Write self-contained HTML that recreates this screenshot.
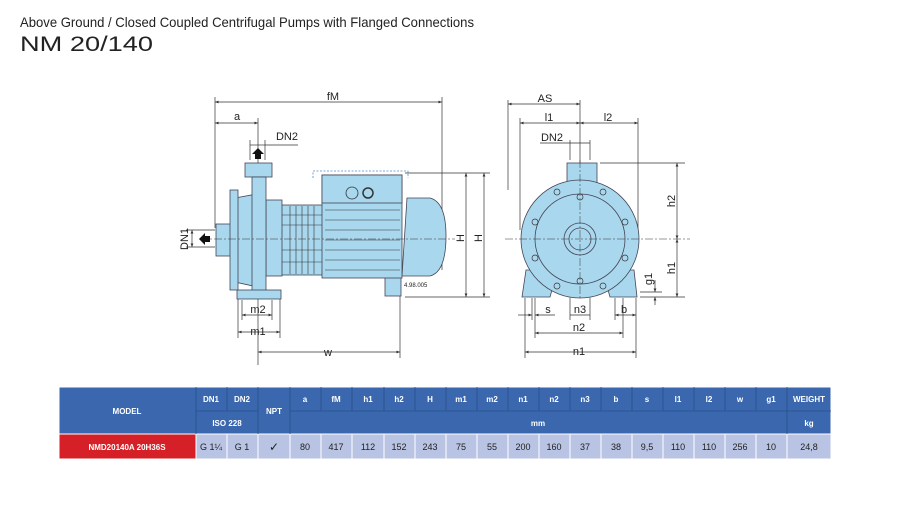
<!DOCTYPE html>
<html><head><meta charset="utf-8"><style>
html,body{margin:0;padding:0;background:#fff;}
svg{display:block;}
text{font-family:"Liberation Sans",sans-serif;}
</style></head><body>
<svg width="900" height="514" viewBox="0 0 900 514" xmlns="http://www.w3.org/2000/svg">
<defs>
<marker id="ar" viewBox="0 0 10 10" refX="10" refY="5" markerWidth="5" markerHeight="5" orient="auto-start-reverse"><path d="M0,1 L10,5 L0,9 z" fill="#333"/></marker>
</defs>
<text x="20" y="27" font-size="14" fill="#222" textLength="454" lengthAdjust="spacingAndGlyphs">Above Ground / Closed Coupled Centrifugal Pumps with Flanged Connections</text>
<text x="20" y="51" font-size="21" fill="#222" textLength="133" lengthAdjust="spacingAndGlyphs">NM 20/140</text>

<g stroke="#333" stroke-width="0.7" fill="none">
<!-- side view dims -->
<line x1="215" y1="97" x2="215" y2="228"/>
<line x1="442" y1="97" x2="442" y2="270"/>
<line x1="215" y1="102" x2="442" y2="102" marker-start="url(#ar)" marker-end="url(#ar)"/>
<line x1="215" y1="123" x2="258" y2="123" marker-start="url(#ar)" marker-end="url(#ar)"/>
<line x1="258" y1="118" x2="258" y2="365"/>
<line x1="250" y1="140" x2="250" y2="160"/><line x1="265" y1="140" x2="265" y2="160"/>
<line x1="250" y1="145" x2="265" y2="145"/><line x1="265" y1="145" x2="298" y2="145"/>
<line x1="192" y1="230" x2="192" y2="247" marker-start="url(#ar)" marker-end="url(#ar)"/>
<line x1="186" y1="230" x2="215" y2="230"/><line x1="186" y1="247" x2="215" y2="247"/>
<line x1="238" y1="296" x2="238" y2="338"/><line x1="280" y1="296" x2="280" y2="338"/>
<line x1="242" y1="300" x2="242" y2="320"/><line x1="272" y1="300" x2="272" y2="320"/>
<line x1="242" y1="315" x2="272" y2="315" marker-start="url(#ar)" marker-end="url(#ar)"/>
<line x1="238" y1="332" x2="280" y2="332" marker-start="url(#ar)" marker-end="url(#ar)"/>
<line x1="400" y1="290" x2="400" y2="358"/>
<line x1="258" y1="352" x2="400" y2="352" marker-start="url(#ar)" marker-end="url(#ar)"/>
<line x1="405" y1="173" x2="490" y2="173"/><line x1="405" y1="297" x2="490" y2="297"/>
<line x1="466" y1="173" x2="466" y2="297" marker-start="url(#ar)" marker-end="url(#ar)"/>
<line x1="484" y1="173" x2="484" y2="297" marker-start="url(#ar)" marker-end="url(#ar)"/>
<!-- front view dims -->
<line x1="508" y1="100" x2="508" y2="190"/>
<line x1="580" y1="100" x2="580" y2="170"/>
<line x1="508" y1="104" x2="580" y2="104" marker-start="url(#ar)" marker-end="url(#ar)"/>
<line x1="520" y1="118" x2="520" y2="230"/><line x1="638" y1="118" x2="638" y2="230"/>
<line x1="520" y1="123" x2="580" y2="123" marker-start="url(#ar)" marker-end="url(#ar)"/>
<line x1="580" y1="123" x2="638" y2="123" marker-start="url(#ar)" marker-end="url(#ar)"/>
<line x1="570" y1="140" x2="570" y2="160"/><line x1="590" y1="140" x2="590" y2="160"/>
<line x1="540" y1="143" x2="590" y2="143"/>
<line x1="600" y1="163" x2="685" y2="163"/>
<line x1="677" y1="163" x2="677" y2="239" marker-start="url(#ar)" marker-end="url(#ar)"/>
<line x1="677" y1="239" x2="677" y2="297" marker-start="url(#ar)" marker-end="url(#ar)"/>
<line x1="640" y1="297" x2="685" y2="297"/><line x1="640" y1="292" x2="662" y2="292"/>
<line x1="655" y1="280" x2="655" y2="292" marker-end="url(#ar)"/><line x1="655" y1="305" x2="655" y2="297" marker-end="url(#ar)"/>
<line x1="525" y1="298" x2="525" y2="358"/><line x1="636" y1="298" x2="636" y2="358"/>
<line x1="535" y1="298" x2="535" y2="338"/><line x1="623" y1="298" x2="623" y2="338"/>
<line x1="570" y1="298" x2="570" y2="320"/><line x1="590" y1="298" x2="590" y2="320"/>
<line x1="532" y1="298" x2="532" y2="320"/><line x1="615" y1="298" x2="615" y2="320"/>
<line x1="518" y1="315" x2="532" y2="315" marker-end="url(#ar)"/><line x1="555" y1="315" x2="535" y2="315" marker-end="url(#ar)"/>
<line x1="570" y1="315" x2="590" y2="315"/>
<line x1="615" y1="315" x2="636" y2="315" marker-start="url(#ar)" marker-end="url(#ar)"/>
<line x1="535" y1="333" x2="623" y2="333" marker-start="url(#ar)" marker-end="url(#ar)"/>
<line x1="525" y1="352" x2="636" y2="352" marker-start="url(#ar)" marker-end="url(#ar)"/>
</g>

<!-- side pump -->
<g stroke="#445" stroke-width="0.8" fill="#a9d8ee">
<path d="M407,198 L430,198 Q446,202 446,236 Q446,272 430,276 L402,276 z"/>
<rect x="385" y="276" width="16" height="20"/>
<rect x="280" y="205" width="45" height="70"/>
<rect x="322" y="175" width="80" height="103"/>
<rect x="266" y="200" width="16" height="76"/>
<path d="M235,198 L262,193 L262,288 L235,282 z"/>
<rect x="245" y="163" width="27" height="14"/>
<rect x="252" y="177" width="14" height="120"/>
<rect x="237" y="290" width="44" height="9"/>
<rect x="216" y="224" width="20" height="32"/>
<rect x="230" y="190" width="8" height="100"/>
<rect x="322" y="175" width="80" height="28"/>
</g>
<g stroke="#333" stroke-width="0.6">
<line x1="290" y1="206" x2="290" y2="274"/><line x1="296" y1="206" x2="296" y2="274"/><line x1="302" y1="206" x2="302" y2="274"/><line x1="308" y1="206" x2="308" y2="274"/><line x1="314" y1="206" x2="314" y2="274"/>
<line x1="325" y1="210" x2="400" y2="210"/><line x1="325" y1="220" x2="400" y2="220"/><line x1="325" y1="230" x2="400" y2="230"/><line x1="325" y1="240" x2="400" y2="240"/><line x1="325" y1="250" x2="400" y2="250"/><line x1="325" y1="260" x2="400" y2="260"/><line x1="325" y1="270" x2="400" y2="270"/>
</g>
<line x1="282" y1="215" x2="322" y2="215" stroke="#333" stroke-width="0.5"/>
<line x1="282" y1="225" x2="322" y2="225" stroke="#333" stroke-width="0.5"/>
<line x1="282" y1="250" x2="322" y2="250" stroke="#333" stroke-width="0.5"/>
<line x1="282" y1="262" x2="322" y2="262" stroke="#333" stroke-width="0.5"/>
<circle cx="352" cy="193" r="6" fill="#a9d8ee" stroke="#333" stroke-width="0.8"/>
<circle cx="368" cy="193" r="5" fill="#a9d8ee" stroke="#333" stroke-width="1.5"/>
<path d="M313,178 V171 H408 V178" fill="none" stroke="#4a8fd0" stroke-width="0.8" stroke-dasharray="2,1.5"/>
<line x1="200" y1="239" x2="455" y2="239" stroke="#333" stroke-width="0.5" stroke-dasharray="8,2,2,2"/>
<path d="M199,239 L205,233 V236 H210 V242 H205 V245 z" fill="#111"/>
<path d="M258,148 L252,154 H255 V159 H261 V154 H264 z" fill="#111"/>
<text x="404" y="287" font-size="6" fill="#222">4.98.005</text>

<!-- front pump -->
<g stroke="#445" stroke-width="0.8" fill="#a9d8ee">
<rect x="567" y="163" width="30" height="22"/>
<path d="M526,270 L522,297 L550,297 L552,290 L608,290 L610,297 L637,297 L634,270 z"/>
<circle cx="580" cy="239" r="59"/>
<circle cx="580" cy="239" r="45" fill="none"/>
<circle cx="580" cy="239" r="16"/>
<circle cx="580" cy="239" r="11"/>
</g>
<g fill="#a9d8ee" stroke="#333" stroke-width="0.7">
<circle cx="580" cy="197" r="3"/><circle cx="580" cy="281" r="3"/>
<circle cx="535" cy="222" r="3"/><circle cx="625" cy="222" r="3"/>
<circle cx="535" cy="258" r="3"/><circle cx="625" cy="258" r="3"/>
<circle cx="557" cy="192" r="3"/><circle cx="603" cy="192" r="3"/>
<circle cx="557" cy="286" r="3"/><circle cx="603" cy="286" r="3"/>
</g>
<line x1="505" y1="239" x2="690" y2="239" stroke="#333" stroke-width="0.5" stroke-dasharray="8,2,2,2"/>
<line x1="580" y1="160" x2="580" y2="300" stroke="#333" stroke-width="0.5" stroke-dasharray="8,2,2,2"/>

<g font-size="11" fill="#222" text-anchor="middle">
<text x="333" y="100">fM</text><text x="237" y="120">a</text><text x="287" y="140">DN2</text>
<text x="258" y="313">m2</text><text x="258" y="335">m1</text><text x="328" y="356">w</text>
<text transform="translate(188,239) rotate(-90)">DN1</text>
<text transform="translate(464,238) rotate(-90)">H</text>
<text transform="translate(482,238) rotate(-90)">H</text>
<text x="545" y="102">AS</text><text x="549" y="121">l1</text><text x="608" y="121">l2</text><text x="552" y="141">DN2</text>
<text transform="translate(675,201) rotate(-90)">h2</text>
<text transform="translate(675,268) rotate(-90)">h1</text>
<text transform="translate(652,279) rotate(-90)">g1</text>
<text x="548" y="313">s</text><text x="580" y="313">n3</text><text x="624" y="313">b</text>
<text x="579" y="331">n2</text><text x="579" y="355">n1</text>
</g>

<!-- table -->
<g stroke="#fff" stroke-width="1">
<rect x="59" y="387" width="772" height="47" fill="#3a67ad"/>
<rect x="59" y="434" width="137" height="25" fill="#d52027"/>
<rect x="196" y="434" width="635" height="25" fill="#b9c3e3"/>
</g>
<g stroke="#26518f" stroke-width="0.8">
<line x1="196" y1="387" x2="196" y2="434"/><line x1="227" y1="387" x2="227" y2="411"/><line x1="258" y1="387" x2="258" y2="434"/><line x1="290" y1="387" x2="290" y2="434"/>
<line x1="196" y1="411" x2="258" y2="411"/><line x1="290" y1="411" x2="831" y2="411"/>
<line x1="321" y1="387" x2="321" y2="411"/><line x1="352" y1="387" x2="352" y2="411"/><line x1="384" y1="387" x2="384" y2="411"/><line x1="415" y1="387" x2="415" y2="411"/><line x1="446" y1="387" x2="446" y2="411"/><line x1="477" y1="387" x2="477" y2="411"/><line x1="508" y1="387" x2="508" y2="411"/><line x1="539" y1="387" x2="539" y2="411"/><line x1="570" y1="387" x2="570" y2="411"/><line x1="601" y1="387" x2="601" y2="411"/><line x1="632" y1="387" x2="632" y2="411"/><line x1="663" y1="387" x2="663" y2="411"/><line x1="694" y1="387" x2="694" y2="411"/><line x1="725" y1="387" x2="725" y2="411"/><line x1="756" y1="387" x2="756" y2="411"/><line x1="787" y1="387" x2="787" y2="434"/>
</g>
<g stroke="#fff" stroke-width="1">
<line x1="227" y1="434" x2="227" y2="459"/><line x1="258" y1="434" x2="258" y2="459"/><line x1="290" y1="434" x2="290" y2="459"/><line x1="321" y1="434" x2="321" y2="459"/><line x1="352" y1="434" x2="352" y2="459"/><line x1="384" y1="434" x2="384" y2="459"/><line x1="415" y1="434" x2="415" y2="459"/><line x1="446" y1="434" x2="446" y2="459"/><line x1="477" y1="434" x2="477" y2="459"/><line x1="508" y1="434" x2="508" y2="459"/><line x1="539" y1="434" x2="539" y2="459"/><line x1="570" y1="434" x2="570" y2="459"/><line x1="601" y1="434" x2="601" y2="459"/><line x1="632" y1="434" x2="632" y2="459"/><line x1="663" y1="434" x2="663" y2="459"/><line x1="694" y1="434" x2="694" y2="459"/><line x1="725" y1="434" x2="725" y2="459"/><line x1="756" y1="434" x2="756" y2="459"/><line x1="787" y1="434" x2="787" y2="459"/>
</g>
<g font-size="8" font-weight="bold" fill="#fff" text-anchor="middle">
<text x="127" y="414">MODEL</text><text x="211" y="402">DN1</text><text x="242" y="402">DN2</text><text x="227" y="426">ISO 228</text><text x="274" y="414">NPT</text>
<text x="305" y="402">a</text><text x="336" y="402">fM</text><text x="368" y="402">h1</text><text x="399" y="402">h2</text><text x="430" y="402">H</text><text x="461" y="402">m1</text><text x="492" y="402">m2</text><text x="523" y="402">n1</text><text x="554" y="402">n2</text><text x="585" y="402">n3</text><text x="616" y="402">b</text><text x="647" y="402">s</text><text x="678" y="402">l1</text><text x="709" y="402">l2</text><text x="740" y="402">w</text><text x="771" y="402">g1</text><text x="809" y="402">WEIGHT</text>
<text x="538" y="426">mm</text><text x="809" y="426">kg</text>
<text x="127" y="450">NMD20140A 20H36S</text>
</g>
<g font-size="9" fill="#222" text-anchor="middle">
<text x="211" y="450">G 1¼</text><text x="242" y="450">G 1</text><text x="274" y="451" font-size="12">✓</text>
<text x="305" y="450">80</text><text x="336" y="450">417</text><text x="368" y="450">112</text><text x="399" y="450">152</text><text x="430" y="450">243</text><text x="461" y="450">75</text><text x="492" y="450">55</text><text x="523" y="450">200</text><text x="554" y="450">160</text><text x="585" y="450">37</text><text x="616" y="450">38</text><text x="647" y="450">9,5</text><text x="678" y="450">110</text><text x="709" y="450">110</text><text x="740" y="450">256</text><text x="771" y="450">10</text><text x="809" y="450">24,8</text>
</g>
</svg>
</body></html>
